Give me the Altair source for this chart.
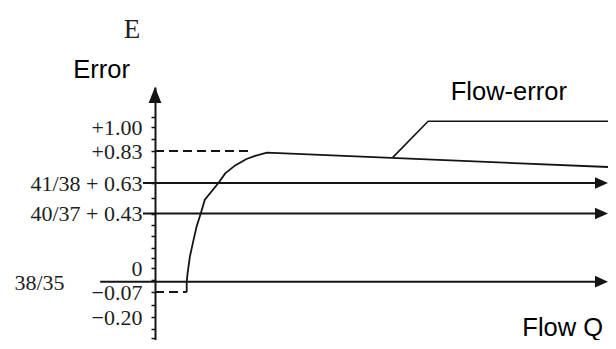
import altair as alt
import pandas as pd

# ---- data (Flow Q in arbitrary units, Error E) ----
curve_q = [7.0, 7.0, 7.2, 7.7, 8.5, 9.2, 10.1, 11.0, 14.0, 15.5, 17.7, 20.2, 22.1, 24.7, 100.0]
curve_e = [-0.07, -0.04, -0.015, 0.09, 0.22, 0.33, 0.43, 0.52, 0.63, 0.69, 0.74, 0.78, 0.80, 0.82, 0.73]

level_names = ["41/38", "40/37", "38/35"]
level_e = [0.63, 0.43, -0.04]
level_q_start = [-2.65, -2.65, -12.1]
level_q_end = [98.0, 98.0, 98.0]
arrow_q = [100.0, 100.0, 100.0]

dash_e = [0.83, -0.07]
dash_q_start = [0.0, 0.0]
dash_q_end = [21.5, 7.0]

leader_q = [52.5, 60.3, 100.0]
leader_e = [0.79, 1.04, 1.04]

tick_values = [1.0, 0.83, 0.63, 0.43, 0.0, -0.07, -0.20]
tick_labels = ["+1.00", "+0.83", "41/38 + 0.63", "40/37 + 0.43", "0", "\u22120.07", "\u22120.20"]
minor_ticks = [1.07, 0.915, 0.73, 0.53, 0.34, 0.25, 0.16, 0.08, -0.035, -0.135, -0.26, -0.31]

sans_labels = ["Error", "Flow-error", "Flow Q"]
sans_q = [-11.8, 78.1, 90.0]
sans_e = [1.343, 1.19, -0.30]

big_label = ["E"]
big_q = [-5.1]
big_e = [1.62]

side_label = ["38/35"]
side_q = [-25.5]
side_e = [-0.064]

axis_top_q = [0.0]
axis_top_e = [1.28]

# ---- scales (schematic, piecewise-linear error axis) ----
y_domain = [-0.32, -0.2, -0.07, 0, 0.43, 0.63, 0.83, 1.0, 1.28]
y_range = [253, 230, 205, 181, 126.5, 96, 64, 40, 0]
xs = alt.Scale(domain=[0, 100], nice=False, zero=False)
ys = alt.Scale(domain=y_domain, range=y_range, nice=False, zero=False)

INK = "#141414"

conds = " : ".join(
    f"abs(datum.value - ({v})) < 1e-9 ? '{l}'" for v, l in zip(tick_values, tick_labels)
)
label_expr = conds + " : ''"

y_axis = alt.Axis(
    values=sorted(tick_values + minor_ticks),
    labelExpr=label_expr,
    title=None,
    grid=False,
    domainColor=INK,
    domainWidth=2,
    tickColor=INK,
    tickWidth=1.5,
    tickSize=4,
    labelFont="Liberation Serif",
    labelFontSize=22,
    labelColor="#1e1e1e",
    labelPadding=9,
    labelOverlap=False,
    labelFlush=False,
    labelBound=False,
)


def X(field):
    return alt.X(field, scale=xs, axis=None)


def Y(field):
    return alt.Y(field, scale=ys, axis=y_axis)


curve_df = pd.DataFrame({"q": curve_q, "e": curve_e, "i": list(range(len(curve_q)))})
curve = alt.Chart(curve_df).mark_line(color=INK, strokeWidth=1.8).encode(
    x=X("q:Q"), y=Y("e:Q"), order="i:O"
)

levels_df = pd.DataFrame({"name": level_names, "e": level_e, "q0": level_q_start, "q1": level_q_end})
levels = alt.Chart(levels_df).mark_rule(color=INK, strokeWidth=2).encode(
    x=X("q0:Q"), x2="q1:Q", y=Y("e:Q")
)

arrows_df = pd.DataFrame({"q": arrow_q, "e": level_e})
arrows = alt.Chart(arrows_df).mark_point(
    shape="M0,0L-2,-0.9L-2,0.9Z", size=169, filled=True, color=INK, opacity=1, strokeWidth=0
).encode(x=X("q:Q"), y=Y("e:Q"))

dash_df = pd.DataFrame({"e": dash_e, "q0": dash_q_start, "q1": dash_q_end})
dashes = alt.Chart(dash_df).mark_rule(color=INK, strokeWidth=2.2, strokeDash=[9, 5]).encode(
    x=X("q0:Q"), x2="q1:Q", y=Y("e:Q")
)

leader_df = pd.DataFrame({"q": leader_q, "e": leader_e, "i": [0, 1, 2]})
leader = alt.Chart(leader_df).mark_line(color=INK, strokeWidth=1.6).encode(
    x=X("q:Q"), y=Y("e:Q"), order="i:O"
)

top_df = pd.DataFrame({"q": axis_top_q, "e": axis_top_e})
top_arrow = alt.Chart(top_df).mark_point(
    shape="M0,0L-0.8,2L0.8,2Z", size=256, filled=True, color=INK, opacity=1, strokeWidth=0
).encode(x=X("q:Q"), y=Y("e:Q"))

sans_df = pd.DataFrame({"label": sans_labels, "q": sans_q, "e": sans_e})
sans_text = alt.Chart(sans_df).mark_text(
    font="Liberation Sans", fontSize=25.5, color="#000", align="center", baseline="alphabetic"
).encode(x=X("q:Q"), y=Y("e:Q"), text="label:N")

big_df = pd.DataFrame({"label": big_label, "q": big_q, "e": big_e})
big_text = alt.Chart(big_df).mark_text(
    font="Liberation Serif", fontSize=27, color="#1e1e1e", align="center", baseline="alphabetic"
).encode(x=X("q:Q"), y=Y("e:Q"), text="label:N")

side_df = pd.DataFrame({"label": side_label, "q": side_q, "e": side_e})
side_text = alt.Chart(side_df).mark_text(
    font="Liberation Serif", fontSize=22, color="#1e1e1e", align="center", baseline="alphabetic"
).encode(x=X("q:Q"), y=Y("e:Q"), text="label:N")

chart = (
    alt.layer(curve, levels, arrows, dashes, leader, top_arrow, sans_text, big_text, side_text)
    .properties(
        width=453,
        height=253,
        autosize=alt.AutoSizeParams(type="none"),
        padding={"left": 147, "top": 79, "right": 0, "bottom": 0},
        background="white",
    )
    .configure_view(stroke=None)
)

chart.save("out.html", embed_options={"renderer": "svg", "actions": False})
